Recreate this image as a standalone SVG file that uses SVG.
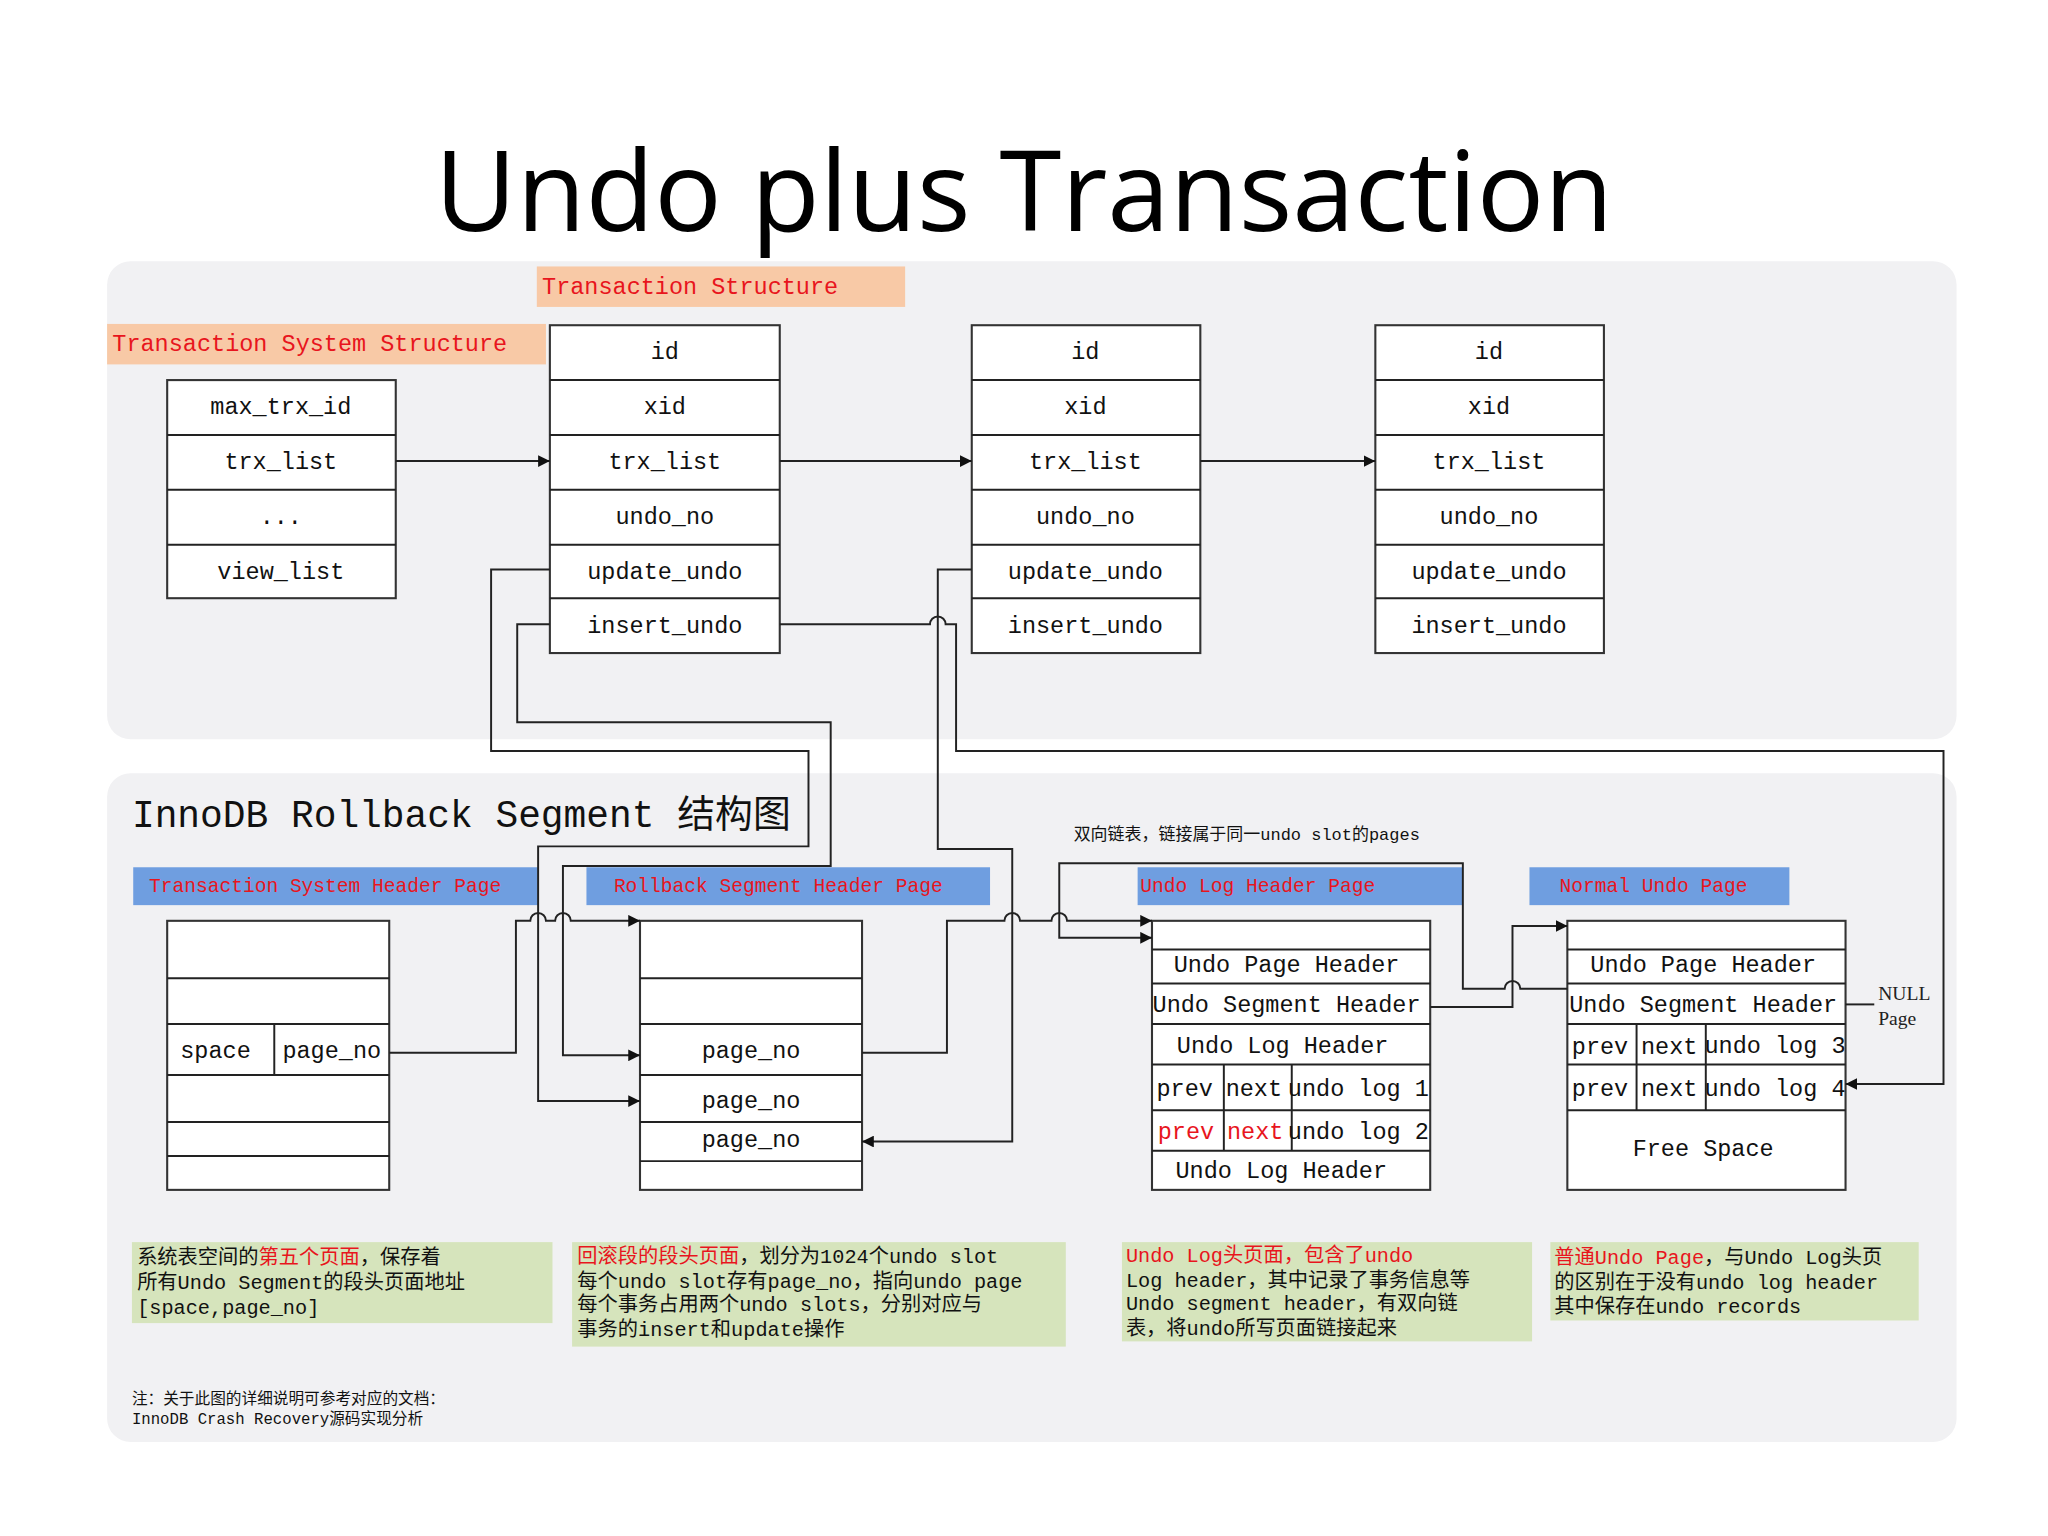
<svg xmlns="http://www.w3.org/2000/svg" width="2048" height="1536" viewBox="0 0 2048 1536">
<defs>
<marker id="ar" viewBox="0 0 10 10" refX="10" refY="5" markerWidth="9" markerHeight="9" markerUnits="userSpaceOnUse" orient="auto"><path d="M0,0 L10,5 L0,10 z" fill="#111"/></marker>
<style>
.bx{fill:#fff;stroke:#333;stroke-width:1.6}
.t{font-family:"Liberation Mono","Noto Sans CJK SC",monospace;font-size:18px;fill:#111;text-anchor:middle}
.tl{font-family:"Liberation Mono","Noto Sans CJK SC",monospace;fill:#111}
.red{fill:#e8151d}
.ln{fill:none;stroke:#222;stroke-width:1.5}
.hdr{fill:#6f9ee0}
.pch{fill:#f8c9a6}
.grn{fill:#d6e4bc}
</style>
</defs>
<rect width="2048" height="1536" fill="#fff"/>
<g transform="scale(1.30612)">
<text x="784" y="177" text-anchor="middle" font-family="'Open Sans','Liberation Sans',sans-serif" font-size="86" fill="#000">Undo plus Transaction</text>
<rect x="82" y="200" width="1416" height="366" rx="18" fill="#f1f1f3"/>
<rect x="82" y="592" width="1416" height="512" rx="18" fill="#f1f1f3"/>

<g id="lbl-ts"><rect class="pch" x="411" y="204" width="282" height="31"/><text class="tl red" x="415" y="225" font-size="18">Transaction Structure</text></g>
<g id="lbl-tss"><rect class="pch" x="82" y="248" width="336" height="31"/><text class="tl red" x="86" y="269" font-size="18">Transaction System Structure</text></g>

<g id="trx-sys">
<rect class="bx" x="128" y="291" width="175" height="167"/>
<path class="ln" d="M128,333H303M128,375H303M128,417H303"/>
<text class="t" x="215" y="317">max_trx_id</text><text class="t" x="215" y="359">trx_list</text><text class="t" x="215" y="401">...</text><text class="t" x="215" y="443">view_list</text>
</g>
<g id="trx1">
<rect class="bx" x="421" y="249" width="176" height="251"/>
<path class="ln" d="M421,291H597M421,333H597M421,375H597M421,417H597M421,458H597"/>
<text class="t" x="509" y="275">id</text><text class="t" x="509" y="317">xid</text><text class="t" x="509" y="359">trx_list</text><text class="t" x="509" y="401">undo_no</text><text class="t" x="509" y="443">update_undo</text><text class="t" x="509" y="485">insert_undo</text>
</g>
<g id="trx2">
<rect class="bx" x="744" y="249" width="175" height="251"/>
<path class="ln" d="M744,291H919M744,333H919M744,375H919M744,417H919M744,458H919"/>
<text class="t" x="831" y="275">id</text><text class="t" x="831" y="317">xid</text><text class="t" x="831" y="359">trx_list</text><text class="t" x="831" y="401">undo_no</text><text class="t" x="831" y="443">update_undo</text><text class="t" x="831" y="485">insert_undo</text>
</g>
<g id="trx3">
<rect class="bx" x="1053" y="249" width="175" height="251"/>
<path class="ln" d="M1053,291H1228M1053,333H1228M1053,375H1228M1053,417H1228M1053,458H1228"/>
<text class="t" x="1140" y="275">id</text><text class="t" x="1140" y="317">xid</text><text class="t" x="1140" y="359">trx_list</text><text class="t" x="1140" y="401">undo_no</text><text class="t" x="1140" y="443">update_undo</text><text class="t" x="1140" y="485">insert_undo</text>
</g>

<text class="tl" x="101" y="633" font-size="29">InnoDB Rollback Segment 结构图</text>
<text class="tl" x="822" y="643" font-size="13">双向链表，链接属于同一undo slot的pages</text>

<g id="lbl-tshp"><rect class="hdr" x="102" y="664" width="310" height="29"/><text class="tl red" x="114" y="683" font-size="15">Transaction System Header Page</text></g>
<g id="lbl-rshp"><rect class="hdr" x="449" y="664" width="309" height="29"/><text class="tl red" x="470" y="683" font-size="15">Rollback Segment Header Page</text></g>
<g id="lbl-ulhp"><rect class="hdr" x="871" y="664" width="249" height="29"/><text class="tl red" x="873" y="683" font-size="15">Undo Log Header Page</text></g>
<g id="lbl-nup"><rect class="hdr" x="1171" y="664" width="199" height="29"/><text class="tl red" x="1194" y="683" font-size="15">Normal Undo Page</text></g>

<g id="tshp">
<rect class="bx" x="128" y="705" width="170" height="206"/>
<path class="ln" d="M128,749H298M128,784H298M128,823H298M128,859H298M128,885H298M210,784V823"/>
<text class="t" x="165" y="810" font-size="16">space</text><text class="t" x="254" y="810" font-size="16">page_no</text>
</g>
<g id="rshp">
<rect class="bx" x="490" y="705" width="170" height="206"/>
<path class="ln" d="M490,749H660M490,784H660M490,823H660M490,859H660M490,889H660"/>
<text class="t" x="575" y="810" font-size="16">page_no</text><text class="t" x="575" y="848" font-size="16">page_no</text><text class="t" x="575" y="878" font-size="16">page_no</text>
</g>
<g id="ulhp">
<rect class="bx" x="882" y="705" width="213" height="206"/>
<path class="ln" d="M882,727H1095M882,753H1095M882,784H1095M882,815H1095M882,850H1095M882,881H1095M937,815V881M989,815V881"/>
<text class="t" x="985" y="744" font-size="16">Undo Page Header</text><text class="t" x="985" y="775" font-size="16">Undo Segment Header</text><text class="t" x="982" y="806" font-size="16">Undo Log Header</text>
<text class="t" x="907" y="839" font-size="16">prev</text><text class="t" x="960" y="839" font-size="16">next</text><text class="t" x="1040" y="839" font-size="16">undo log 1</text>
<text class="t red" x="908" y="872" font-size="16">prev</text><text class="t red" x="961" y="872" font-size="16">next</text><text class="t" x="1040" y="872" font-size="16">undo log 2</text>
<text class="t" x="981" y="902" font-size="16">Undo Log Header</text>
</g>
<g id="nup">
<rect class="bx" x="1200" y="705" width="213" height="206"/>
<path class="ln" d="M1200,727H1413M1200,753H1413M1200,784H1413M1200,815H1413M1200,850H1413M1253,784V850M1306,784V850"/>
<text class="t" x="1304" y="744" font-size="16">Undo Page Header</text><text class="t" x="1304" y="775" font-size="16">Undo Segment Header</text>
<text class="t" x="1225" y="807" font-size="16">prev</text><text class="t" x="1278" y="807" font-size="16">next</text><text class="t" x="1359" y="806" font-size="16">undo log 3</text>
<text class="t" x="1225" y="839" font-size="16">prev</text><text class="t" x="1278" y="839" font-size="16">next</text><text class="t" x="1359" y="839" font-size="16">undo log 4</text>
<text class="t" x="1304" y="885" font-size="16">Free Space</text>
</g>
<text font-family="'Liberation Serif',serif" font-size="15" fill="#222" x="1438" y="766">NULL</text>
<text font-family="'Liberation Serif',serif" font-size="15" fill="#222" x="1438" y="785">Page</text>

<g id="connectors">
<path class="ln" marker-end="url(#ar)" d="M303,353H421"/>
<path class="ln" marker-end="url(#ar)" d="M597,353H744"/>
<path class="ln" marker-end="url(#ar)" d="M919,353H1053"/>
<path class="ln" marker-end="url(#ar)" d="M421,436H376V575H619V648H412V843H490"/>
<path class="ln" marker-end="url(#ar)" d="M421,478H396V553H636V663H431V808H490"/>
<path class="ln" marker-end="url(#ar)" d="M597,478H712a6,6 0 0 1 12,0H732V575H1488V830H1413"/>
<path class="ln" marker-end="url(#ar)" d="M744,436H718V650H775V874H660"/>
<path class="ln" marker-end="url(#ar)" d="M298,806H395V705H406a6,6 0 0 1 12,0H425a6,6 0 0 1 12,0H490"/>
<path class="ln" marker-end="url(#ar)" d="M660,806H725V705H769a6,6 0 0 1 12,0H805a6,6 0 0 1 12,0H882"/>
<path class="ln" marker-end="url(#ar)" d="M1200,757H1164a6,6 0 0 0 -12,0H1120V661H811V718H882"/>
<path class="ln" marker-end="url(#ar)" d="M1095,771H1158V709H1200"/>
<path class="ln" d="M1413,769H1435"/>
</g>

<g id="note1"><rect class="grn" x="101" y="951" width="322" height="62"/>
<text class="tl" font-size="15.5" x="105" y="968">系统表空间的<tspan class="red">第五个页面</tspan>，保存着</text>
<text class="tl" font-size="15.5" x="105" y="987">所有Undo Segment的段头页面地址</text>
<text class="tl" font-size="15.5" x="105" y="1006">[space,page_no]</text></g>
<g id="note2"><rect class="grn" x="438" y="951" width="378" height="80"/>
<text class="tl" font-size="15.5" x="442" y="967"><tspan class="red">回滚段的段头页面</tspan>，划分为1024个undo slot</text>
<text class="tl" font-size="15.5" x="442" y="986">每个undo slot存有page_no，指向undo page</text>
<text class="tl" font-size="15.5" x="442" y="1004">每个事务占用两个undo slots，分别对应与</text>
<text class="tl" font-size="15.5" x="442" y="1023">事务的insert和update操作</text></g>
<g id="note3"><rect class="grn" x="859" y="951" width="314" height="76"/>
<text class="tl red" font-size="15.5" x="862" y="966">Undo Log头页面，包含了undo</text>
<text class="tl" font-size="15.5" x="862" y="985">Log header，其中记录了事务信息等</text>
<text class="tl" font-size="15.5" x="862" y="1003">Undo segment header，有双向链</text>
<text class="tl" font-size="15.5" x="862" y="1022">表，将undo所写页面链接起来</text></g>
<g id="note4"><rect class="grn" x="1187" y="951" width="282" height="60"/>
<text class="tl" font-size="15.5" x="1190" y="968"><tspan class="red">普通Undo Page</tspan>，与Undo Log头页</text>
<text class="tl" font-size="15.5" x="1190" y="987">的区别在于没有undo log header</text>
<text class="tl" font-size="15.5" x="1190" y="1005">其中保存在undo records</text></g>

<text class="tl" font-size="12" x="101" y="1075">注：关于此图的详细说明可参考对应的文档：</text>
<text class="tl" font-size="12" x="101" y="1090">InnoDB Crash Recovery源码实现分析</text>
</g>
</svg>
